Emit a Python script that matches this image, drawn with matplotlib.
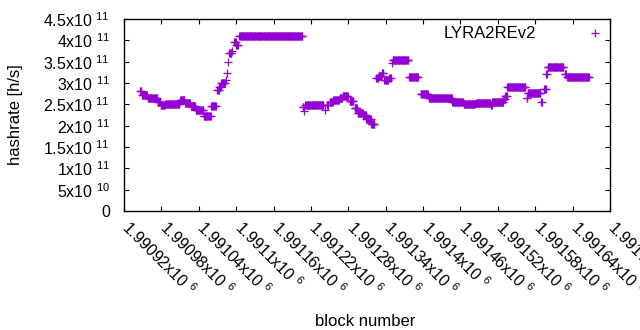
import numpy as np
import matplotlib
matplotlib.use("Agg")
import matplotlib.pyplot as plt
from matplotlib.transforms import ScaledTranslation

plt.rcParams["font.family"] = ["Liberation Sans", "DejaVu Sans"]
plt.rcParams["mathtext.fontset"] = "custom"
plt.rcParams["mathtext.rm"] = "Liberation Sans"
plt.rcParams["mathtext.it"] = "Liberation Sans"
plt.rcParams["font.size"] = 12

# runs of consecutive blocks sharing the same hashrate estimate
run_start = [1990946, 1990949, 1990958, 1990974, 1990979, 1990986, 1991010, 1991018,
             1991027, 1991035, 1991048, 1991060, 1991070, 1991073, 1991076, 1991083,
             1991085, 1991087, 1991089, 1991094, 1991097, 1991100, 1991105,
             1991207, 1991209, 1991211, 1991243, 1991246, 1991250, 1991256, 1991266,
             1991271, 1991282, 1991290, 1991295, 1991304, 1991309, 1991317,
             1991325, 1991329, 1991334, 1991338, 1991346, 1991350, 1991351, 1991378,
             1991396, 1991409, 1991447, 1991465, 1991485, 1991509, 1991511, 1991529,
             1991532, 1991535, 1991566, 1991568, 1991590, 1991594, 1991598, 1991600,
             1991627, 1991631]
run_end = [1990948, 1990957, 1990973, 1990978, 1990985, 1991009, 1991017, 1991026,
           1991034, 1991047, 1991059, 1991067, 1991072, 1991075, 1991082, 1991083,
           1991085, 1991087, 1991092, 1991094, 1991099, 1991103, 1991206,
           1991208, 1991209, 1991240, 1991243, 1991248, 1991255, 1991265, 1991270,
           1991279, 1991288, 1991294, 1991303, 1991308, 1991316, 1991322,
           1991328, 1991333, 1991336, 1991344, 1991348, 1991350, 1991376, 1991392,
           1991408, 1991446, 1991464, 1991484, 1991508, 1991510, 1991528, 1991531,
           1991534, 1991564, 1991567, 1991588, 1991591, 1991597, 1991599, 1991625,
           1991629, 1991666]
run_value = [2.82e11, 2.72e11, 2.65e11, 2.55e11, 2.48e11, 2.51e11, 2.61e11, 2.53e11,
             2.47e11, 2.37e11, 2.23e11, 2.47e11, 2.84e11, 2.90e11, 2.99e11, 3.08e11,
             3.23e11, 3.49e11, 3.70e11, 3.75e11, 3.95e11, 3.89e11, 4.10e11,
             2.43e11, 2.34e11, 2.48e11, 2.37e11, 2.48e11, 2.55e11, 2.60e11, 2.64e11,
             2.70e11, 2.57e11, 2.42e11, 2.30e11, 2.25e11, 2.16e11, 2.05e11,
             3.11e11, 3.16e11, 3.23e11, 3.08e11, 3.12e11, 3.46e11, 3.54e11, 3.13e11,
             2.74e11, 2.64e11, 2.56e11, 2.50e11, 2.52e11, 2.48e11, 2.55e11, 2.63e11,
             2.70e11, 2.90e11, 2.64e11, 2.76e11, 2.56e11, 2.87e11, 3.21e11, 3.37e11,
             3.22e11, 3.15e11]

x_ticks = [1990920, 1990980, 1991040, 1991100, 1991160, 1991220, 1991280,
           1991340, 1991400, 1991460, 1991520, 1991580, 1991640, 1991700]
x_ticklabels = ["1.99092x10 $^{6}$", "1.99098x10 $^{6}$", "1.99104x10 $^{6}$",
                "1.9911x10 $^{6}$", "1.99116x10 $^{6}$", "1.99122x10 $^{6}$",
                "1.99128x10 $^{6}$", "1.99134x10 $^{6}$", "1.9914x10 $^{6}$",
                "1.99146x10 $^{6}$", "1.99152x10 $^{6}$", "1.99158x10 $^{6}$",
                "1.99164x10 $^{6}$", "1.9917x10 $^{6}$"]
y_ticks = [0, 5e10, 1e11, 1.5e11, 2e11, 2.5e11, 3e11, 3.5e11, 4e11, 4.5e11]
y_ticklabels = ["0", "5x10 $^{10}$", "1x10 $^{11}$", "1.5x10 $^{11}$", "2x10 $^{11}$",
                "2.5x10 $^{11}$", "3x10 $^{11}$", "3.5x10 $^{11}$", "4x10 $^{11}$",
                "4.5x10 $^{11}$"]

blocks = np.concatenate([np.arange(s, e + 1) for s, e in zip(run_start, run_end)])
hashrate = np.concatenate([np.full(e - s + 1, v)
                           for s, e, v in zip(run_start, run_end, run_value)])

W, H = 640, 330
fig = plt.figure(figsize=(W / 100, H / 100), dpi=100)
ax = fig.add_axes([124 / W, 1 - 211 / H, (610 - 124) / W, (211 - 19) / H])

ax.plot(blocks, hashrate, linestyle="none", marker="+", color="#9400d3",
        ms=6, mew=0.9, label="LYRA2REv2")

ax.set_xlim(1990920, 1991700)
ax.set_ylim(0, 4.5e11)
ax.set_xticks(x_ticks)
ax.set_xticklabels(x_ticklabels, rotation=-45, ha="left", va="top",
                   rotation_mode="anchor")
ax.set_yticks(y_ticks)
ax.set_yticklabels(y_ticklabels)
ax.tick_params(direction="in", top=True, right=True, length=3.5, width=0.8,
               labelsize=11.5)
ax.tick_params(axis="y", pad=10)
ax.tick_params(axis="x", pad=5)
shift = ScaledTranslation(8 / 100, 0, fig.dpi_scale_trans)
for lbl in ax.get_xticklabels():
    lbl.set_transform(lbl.get_transform() + shift)
for sp in ax.spines.values():
    sp.set_linewidth(1.0)

ax.legend(loc="center right", bbox_to_anchor=(609 / W, 1 - 34 / H),
          bbox_transform=fig.transFigure, frameon=False, markerfirst=False,
          handlelength=1.7, handletextpad=2.7, borderaxespad=0, borderpad=0,
          fontsize=12)

fig.text(16 / W, 1 - 115 / H, "hashrate [h/s]", rotation=90, ha="center",
         va="center", fontsize=12)
fig.text(365 / W, 1 - 326 / H, "block number", ha="center", va="baseline",
         fontsize=12)

fig.savefig("out.png", dpi=100)
